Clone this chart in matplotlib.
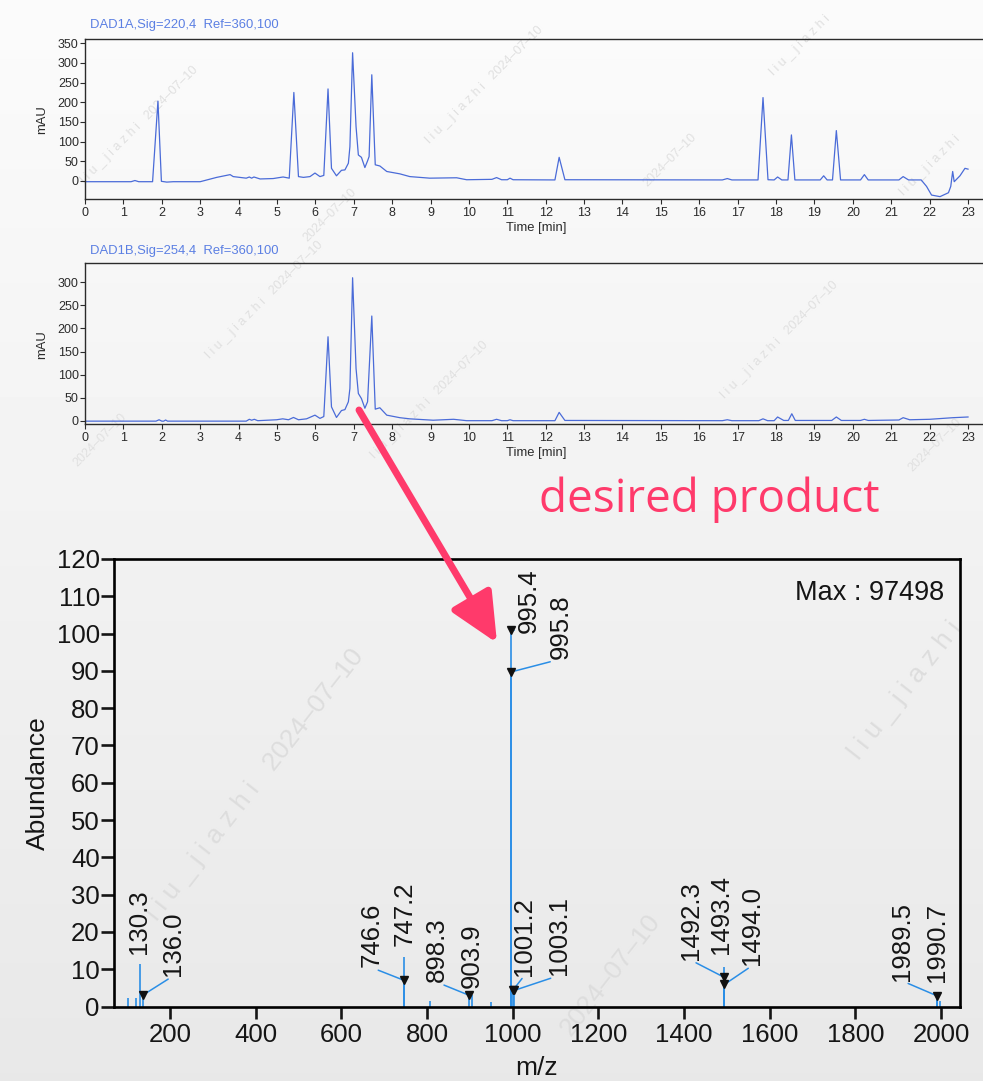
import numpy as np
import matplotlib
matplotlib.use("Agg")
import matplotlib.pyplot as plt
from matplotlib.patches import FancyArrowPatch

plt.rcParams['font.family'] = ['Liberation Sans', 'DejaVu Sans']

# ---------------- data ----------------
# DAD1A (220 nm) trace: time [min] and absorbance [mAU]
dad_a_time = [0, 1.2, 1.3, 1.4, 1.76, 1.9, 1.99, 2.13, 2.3, 3.0,
              3.43, 3.78, 3.86, 4.2, 4.28, 4.34, 4.4, 4.56, 4.9, 5.16,
              5.32, 5.44, 5.56, 5.69, 5.86, 5.99, 6.12, 6.22, 6.33, 6.42,
              6.55, 6.68, 6.77, 6.86, 6.9, 6.97, 7.06, 7.12, 7.2, 7.29,
              7.36, 7.4, 7.47, 7.56, 7.68, 7.86, 8.2, 8.46, 8.98, 9.68,
              9.94, 10.6, 10.72, 10.85, 11.0, 11.07, 11.15, 12.24, 12.35, 12.5,
              16.6, 16.73, 16.85, 17.53, 17.66, 17.79, 17.95, 18.04, 18.15, 18.31,
              18.4, 18.49, 19.15, 19.24, 19.33, 19.47, 19.57, 19.68, 20.2, 20.3,
              20.4, 21.2, 21.31, 21.45, 21.78, 21.92, 22.05, 22.27, 22.49, 22.55,
              22.6, 22.64, 22.79, 22.92, 23.0]
dad_a_mau = [-2, -2, 1, -2, -2, 203, -1, -3, -2, -2,
             9, 16, 11, 7, 10, 7, 10, 5, 6, 10,
             7, 225, 11, 9, 11, 20, 11, 14, 234, 32,
             13, 27, 28, 45, 87, 326, 138, 66, 60, 34,
             51, 62, 270, 41, 38, 24, 18, 11, 7, 8,
             3, 4, 8.5, 3, 3, 7, 3, 2.5, 60, 3,
             2.5, 6, 2.5, 2.5, 212, 3, 2.5, 10, 2.5, 2.5,
             117, 2.5, 2.5, 13, 2.5, 2.5, 128, 2.5, 2.5, 16,
             2.5, 2.5, 11, 2.5, 2.5, -14, -36, -40, -30, -14,
             24, -2, 13, 32, 30]

# DAD1B (254 nm) trace
dad_b_time = [0, 1.85, 1.93, 2.0, 2.05, 2.1, 2.15, 4.2, 4.28, 4.34,
              4.41, 4.5, 4.99, 5.15, 5.3, 5.43, 5.56, 5.77, 5.99, 6.12,
              6.22, 6.33, 6.42, 6.55, 6.68, 6.77, 6.86, 6.9, 6.97, 7.06,
              7.12, 7.2, 7.29, 7.36, 7.47, 7.56, 7.68, 7.86, 8.2, 8.46,
              9.07, 9.6, 9.94, 10.6, 10.72, 10.85, 11.0, 11.07, 11.15, 12.24,
              12.35, 12.5, 16.6, 16.73, 16.85, 17.55, 17.66, 17.78, 17.95, 18.04,
              18.2, 18.32, 18.41, 18.5, 19.45, 19.57, 19.7, 20.2, 20.3, 20.4,
              21.2, 21.31, 21.48, 22.0, 22.61, 23.0]
dad_b_mau = [-1, -1, 2, -1, -1, 1.5, -1, -1, 3, 1,
             3, 0, 2, 4, 2, 7, 2, 4, 12, 5,
             9, 182, 30, 7, 22, 24, 41, 70, 310, 113,
             59, 48, 27, 41, 227, 25, 28, 12, 6.5, 4,
             1, 3, 0, 0, 3, 0, 0, 2, 0, 0,
             18, 0.5, 0, 2, 0, 0, 4, 0, 0, 8,
             0.5, 0.5, 15, 0.5, 0.5, 8, 0.5, 0.5, 3, 0.5,
             1.5, 6.5, 2, 3, 6.5, 8]

# Mass spectrum: labelled peaks
ms_labels = ['130.3', '136.0', '746.6', '747.2', '898.3', '903.9', '995.4', '995.8',
             '1001.2', '1003.1', '1492.3', '1493.4', '1494.0', '1989.5', '1990.7']
ms_mz = [float(s) for s in ms_labels]
ms_abund = [11.5, 3.0, 7.0, 13.4, 3.0, 3.2, 101, 89.7,
            4.5, 4.3, 7.9, 10.7, 5.9, 2.9, 3.0]
# unlabelled minor peaks
minor_mz = [101, 121, 808, 950, 1998]
minor_abund = [2.3, 2.3, 1.4, 1.3, 1.6]
max_count = 97498

# label layout (pixel offsets from peak point, leader line flag)
label_layout = [(-1, 10, False), (30, 19, True), (-33, 13, True), (0, 11, False),
                (-32, 13, True), (0, 7, False), (18, -3, True), (50, 13, True),
                (11, 14, True), (45, 15, True), (-33, 17, True), (-3, 13, False),
                (28, 19, True), (-35, 15, True), (0, 13, False)]

# ---------------- figure ----------------
W, H = 983, 1081
fig = plt.figure(figsize=(W / 100, H / 100), dpi=100)
fig.patch.set_facecolor('#f2f2f2')


def fx(px):
    return px / W


def fy(py):
    return 1 - py / H


def rect(x0, y0, x1, y1):
    return [x0 / W, 1 - y1 / H, (x1 - x0) / W, (y1 - y0) / H]


# background gradient
bg = fig.add_axes([0, 0, 1, 1], zorder=-10)
grad = np.linspace(251, 232, 256) / 255
bg.imshow(grad[:, None] * np.ones((1, 4)), cmap='gray', vmin=0, vmax=1,
          aspect='auto', extent=[0, 1, 0, 1])
bg.axis('off')

# watermarks
wm_full = 'l i u _ j i a z h i   2024\u201307\u201310'
wm_name = 'l i u _ j i a z h i'
wm_date = '2024\u201307\u201310'
wm_small = [(140, 125, wm_full), (485, 85, wm_full), (330, 215, wm_date),
            (800, 45, wm_name), (670, 160, wm_date), (930, 165, wm_name),
            (265, 300, wm_full), (100, 440, wm_date), (430, 400, wm_full),
            (780, 340, wm_full), (935, 445, wm_date)]
for (px, py, s) in wm_small:
    fig.text(fx(px), fy(py), s, rotation=45, ha='center', va='center',
             fontsize=9, color='#e0e0e0', zorder=-5)
wm_large = [(255, 785, wm_full), (905, 690, wm_name), (610, 975, wm_date)]
for (px, py, s) in wm_large:
    fig.text(fx(px), fy(py), s, rotation=52, ha='center', va='center',
             fontsize=19, color='#dddddd', zorder=-5)

LINE = '#4a6bd8'
TITLE = '#5b7fe3'
AXC = '#2b2b2b'


def chrom(ax_rect, t, v, ylim, yticks, title, title_y, ylabel_y, xlabel_y):
    ax = fig.add_axes(ax_rect)
    ax.set_facecolor('none')
    ax.plot(t, v, color=LINE, lw=0.9)
    ax.set_xlim(0, 23.39)
    ax.set_ylim(*ylim)
    ax.set_xticks(range(0, 24))
    ax.set_yticks(yticks)
    for s in ['left', 'top', 'bottom']:
        ax.spines[s].set_color(AXC)
        ax.spines[s].set_linewidth(1.0)
    ax.spines['right'].set_visible(False)
    ax.tick_params(axis='both', length=3.5, width=0.8, labelsize=9, colors=AXC)
    ax.tick_params(axis='y', pad=1)
    ax.tick_params(axis='x', pad=2.5)
    fig.text(fx(90), fy(title_y), title, ha='left', va='center', fontsize=9.4, color=TITLE)
    fig.text(fx(42), fy(ylabel_y), 'mAU', rotation=90, ha='center', va='center',
             fontsize=9.4, color=AXC)
    fig.text(fx(536), fy(xlabel_y), 'Time [min]', ha='center', va='center',
             fontsize=9.4, color=AXC)
    return ax


chrom(rect(85, 39, 983, 199), dad_a_time, dad_a_mau, (-46, 361), range(0, 351, 50),
      'DAD1A,Sig=220,4  Ref=360,100', 25, 120, 228)
chrom(rect(85, 263, 983, 424), dad_b_time, dad_b_mau, (-7.2, 342), range(0, 301, 50),
      'DAD1B,Sig=254,4  Ref=360,100', 251, 345, 453)

# ---------------- mass spectrum ----------------
STEM = '#2a8ee6'
TXT = '#151515'
ms = fig.add_axes(rect(114.3, 559, 960, 1006.5))
ms.set_facecolor('none')
ms.vlines(minor_mz, 0, minor_abund, color=STEM, lw=1.2)
ms.vlines(ms_mz, 0, ms_abund, color=STEM, lw=1.2)
ms.set_xlim(70, 2044)
ms.set_ylim(0, 120)
ms.set_xticks(range(200, 2001, 200))
ms.set_yticks(range(0, 121, 10))
for s in ms.spines.values():
    s.set_color('black')
    s.set_linewidth(1.9)
ms.tick_params(axis='both', width=1.9, labelsize=18.5, colors=TXT)
ms.tick_params(axis='y', length=9.4, pad=1)
ms.tick_params(axis='x', length=8.4, pad=3.5)

for mz, ab, lab, (dx, dy, lead) in zip(ms_mz, ms_abund, ms_labels, label_layout):
    if lead:
        ms.annotate(lab, xy=(mz, ab), xytext=(dx, dy), textcoords='offset pixels',
                    rotation=90, ha='center', va='bottom', fontsize=18.5, color=TXT,
                    arrowprops=dict(arrowstyle='-', color=STEM, lw=1.1, shrinkA=0,
                                    shrinkB=0, relpos=(0.5, 0.0)))
        ms.plot([mz], [ab], marker='v', color='#111111', markersize=5.5, zorder=5)
    else:
        ms.annotate(lab, xy=(mz, ab), xytext=(dx, dy), textcoords='offset pixels',
                    rotation=90, ha='center', va='bottom', fontsize=18.5, color=TXT)

fig.text(fx(944), fy(593), f'Max : {max_count}', ha='right', va='center',
         fontsize=19.5, color=TXT)
fig.text(fx(38), fy(783), 'Abundance', rotation=90, ha='center', va='center',
         fontsize=19, color=TXT)
fig.text(fx(537), fy(1068), 'm/z', ha='center', va='center', fontsize=19, color=TXT)

# ---------------- annotation arrow ----------------
RED = '#ff3a6b'
arrow = FancyArrowPatch((fx(359), fy(410)), (fx(497), fy(643)), transform=fig.transFigure,
                        arrowstyle='-|>,head_length=3.0,head_width=1.4', mutation_scale=10,
                        color=RED, lw=5, shrinkA=0, shrinkB=0, capstyle='round', zorder=20)
fig.add_artist(arrow)
fig.text(fx(539), fy(512), 'desired product', ha='left', va='baseline', fontsize=33,
         weight=500, color=RED, family=['Open Sans', 'DejaVu Sans'], zorder=20)

fig.savefig('out.png', dpi=100, facecolor=fig.get_facecolor())
